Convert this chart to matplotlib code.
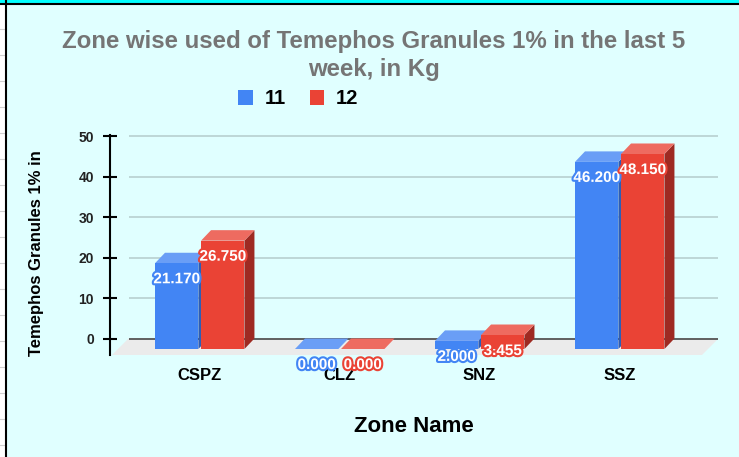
import matplotlib
matplotlib.use('Agg')
import matplotlib.pyplot as plt
from matplotlib.patches import Polygon, Rectangle, Patch
from matplotlib.lines import Line2D
import matplotlib.patheffects as pe

# ---------------- data ----------------
zones = ['CSPZ', 'CLZ', 'SNZ', 'SSZ']
series_names = ['11', '12']
week11 = [21.170, 0.000, 2.000, 46.200]
week12 = [26.750, 0.000, 3.455, 48.150]
yticks = [0, 10, 20, 30, 40, 50]

title = 'Zone wise used of Temephos Granules 1% in the last 5\nweek, in Kg'
xlabel = 'Zone Name'
ylabel = 'Temephos Granules 1% in'

# ---------------- styling ----------------
plt.rcParams['font.family'] = ['Liberation Sans', 'DejaVu Sans']
W, H = 739, 457
bg = '#E0FFFF'
front_cols = ['#4285F4', '#EA4335']
top_cols = ['#6A9EF6', '#EE6B60']
side_cols = ['#2D5DB5', '#9E2A22']

fig = plt.figure(figsize=(W / 100, H / 100), dpi=100)
fig.patch.set_facecolor(bg)

# frame decorations (screenshot border)
fig.add_artist(Rectangle((0, 0), 5 / W, 1, transform=fig.transFigure, facecolor='white', edgecolor='none', zorder=0))
for yy in range(3, H, 26):
    fig.add_artist(Line2D([0, 5 / W], [1 - (yy + 26) / H] * 2, transform=fig.transFigure, color='#D0D0D0', lw=0.8))
fig.add_artist(Line2D([5.5 / W] * 2, [0, 1], transform=fig.transFigure, color='black', lw=1.5))
fig.add_artist(Rectangle((0, 1 - 3 / H), 1, 3 / H, transform=fig.transFigure, facecolor='#00FFFF', edgecolor='none'))
fig.add_artist(Line2D([0, 1], [1 - 4 / H] * 2, transform=fig.transFigure, color='black', lw=1.5))

# ---------------- axes geometry ----------------
ppu = 4.05      # pixels per y unit
ppc = 140.0     # pixels per category
y0_px = 338.5   # pixel row of value 0
ylo, yhi = -6, 52
ax_left = 110
ax_top = y0_px - yhi * ppu
ax_bot = y0_px - ylo * ppu
ax = fig.add_axes([ax_left / W, 1 - ax_bot / H, (W - ax_left) / W, (ax_bot - ax_top) / H])
ax.set_facecolor('none')
xlo = -(199.5 - ax_left) / ppc
xhi = (W - 199.5) / ppc
ax.set_xlim(xlo, xhi)
ax.set_ylim(ylo, yhi)

dx = 10 / ppc
dy = 10.5 / ppu
dxF = 16.5 / ppc
dyF = 16.5 / ppu

# floor
fl_left = xlo + 2 / ppc
fl_right = len(zones) - 1 + 0.589
ax.add_patch(Polygon([(fl_left, -dyF), (fl_right, -dyF), (fl_right + dxF, 0), (fl_left + dxF, 0)],
                     closed=True, facecolor='#EBEBEB', edgecolor='none', zorder=0.5))
# grid
ax.hlines([t for t in yticks if t != 0], fl_left + dxF, fl_right + dxF, color='#B4CCCC', lw=1.1, zorder=1)
ax.hlines(0, fl_left + dxF, fl_right + dxF, color='#555555', lw=1.3, zorder=1.5)

# bars
bw = 0.31
offsets = [-0.318, 0.011]
for i, z in enumerate(zones):
    for j, vals in enumerate([week11, week12]):
        v = vals[i]
        x0 = i + offsets[j]
        x1 = x0 + bw
        zo = 2 + i * 0.1 + j * 0.05
        ax.add_patch(Polygon([(x1, -dy), (x1 + dx, 0), (x1 + dx, v), (x1, v - dy)], closed=True,
                             facecolor=side_cols[j], edgecolor='none', zorder=zo))
        ax.add_patch(Polygon([(x0, v - dy), (x1, v - dy), (x1 + dx, v), (x0 + dx, v)], closed=True,
                             facecolor=top_cols[j], edgecolor='none', zorder=zo))
        ax.add_patch(Rectangle((x0, -dy), bw, v, facecolor=front_cols[j], edgecolor='none', zorder=zo))
        ax.text((x0 + x1) / 2, v - dy - 16 / ppu, f'{v:.3f}', ha='center', va='center', color='white',
                fontsize=11, fontweight='bold', zorder=5,
                path_effects=[pe.withStroke(linewidth=3, foreground=front_cols[j])])

# axes/ticks
for s in ['top', 'right', 'bottom']:
    ax.spines[s].set_visible(False)
ax.spines['left'].set_bounds(-16.5 / ppu, (y0_px - 135) / ppu)
ax.spines['left'].set_linewidth(1.5)
ax.spines['left'].set_color('black')
ax.set_yticks(yticks)
ax.set_yticklabels([str(t) for t in yticks], fontweight='bold', color='#222222')
ax.tick_params(axis='y', direction='inout', length=10, width=1.5, labelsize=10, pad=6.5)
ax.set_xticks(range(len(zones)))
ax.set_xticklabels(zones, fontweight='bold', color='black')
ax.tick_params(axis='x', length=0, labelsize=12, pad=4)

# labels & title
fig.text(413.5 / W, 1 - 426 / H, xlabel, ha='center', va='center', fontsize=16, fontweight='bold', color='black')
fig.text(37 / W, 1 - 253 / H, ylabel, ha='center', va='center', rotation=90, fontsize=12,
         fontweight='bold', color='black')
fig.text(373.5 / W, 1 - 30 / H, title, ha='center', va='top', fontsize=17.3, fontweight='bold',
         color='#757575', linespacing=1.3)

handles = [Patch(facecolor=c, edgecolor='none') for c in front_cols]
fig.legend(handles, series_names, loc='center', bbox_to_anchor=(298.5 / W, 1 - 99 / H), ncol=2,
           frameon=False, prop={'size': 14.5, 'weight': 'bold'}, handlelength=0.7, handleheight=0.7,
           handletextpad=0.6, columnspacing=1.2, borderpad=0, borderaxespad=0)

fig.savefig('out.png', dpi=100, facecolor=bg)
